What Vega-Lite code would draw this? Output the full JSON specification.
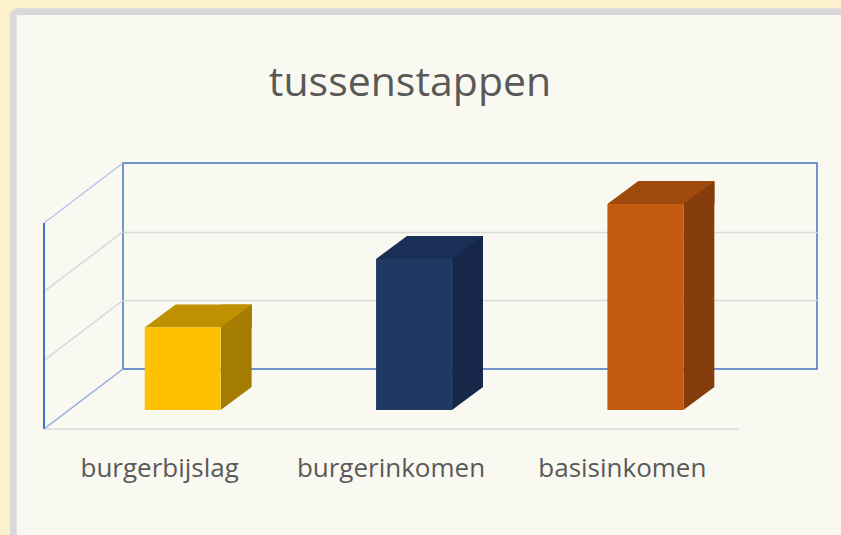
{
  "$schema": "https://vega.github.io/schema/vega-lite/v6.json",
  "width": 694,
  "height": 206,
  "autosize": {"type": "none"},
  "padding": {"left": 123, "top": 163, "right": 24, "bottom": 166},
  "background": "#FAF9F1",
  "title": {"text": "tussenstappen", "font": "Open Sans", "fontSize": 41, "fontWeight": "normal", "color": "#595959", "anchor": "middle", "frame": "group", "dx": -60, "offset": -143, "baseline": "alphabetic"},
  "datasets": {
    "bars": [
      {"category": "burgerbijslag", "value": 1.2},
      {"category": "burgerinkomen", "value": 2.2},
      {"category": "basisinkomen", "value": 3.0}
    ],
    "levels": [{"level": 0}, {"level": 1}, {"level": 2}, {"level": 3}],
    "frame": [{"part": "border"}]
  },
  "config": {
    "view": {"stroke": "#4472C4", "strokeWidth": 1.5}
  },
  "resolve": {"scale": {"color": "independent", "fill": "independent", "stroke": "independent"}},
  "layer": [
    {
      "data": {"name": "frame"},
      "mark": {"type": "rect", "fill": "transparent", "stroke": "#FDF1CD", "strokeWidth": 16, "cornerRadius": 12, "xOffset": -120, "x2Offset": 63, "yOffset": -161.5, "y2Offset": 211},
      "encoding": {
        "x": {"datum": "burgerbijslag", "type": "nominal", "bandPosition": 0,
          "scale": {"domain": ["burgerbijslag", "burgerinkomen", "basisinkomen"], "paddingInner": 0, "paddingOuter": 0},
          "axis": {"title": null, "ticks": false, "tickSize": 0, "grid": false, "domainColor": "#D9D9D9", "domainWidth": 1.5, "labelFont": "Open Sans", "labelFontSize": 26, "labelColor": "#595959", "labelAngle": 0, "labelLimit": 400, "labelPadding": 48, "labelBaseline": "alphabetic", "offset": 138.5, "translate": -78.5}},
        "x2": {"datum": "basisinkomen", "bandPosition": 1},
        "y": {"datum": 3, "type": "quantitative",
          "scale": {"domain": [0, 3], "nice": false},
          "axis": {"title": null, "values": [1, 2], "grid": true, "gridColor": "#D9D9D9", "gridWidth": 1.5, "labels": false, "ticks": false, "domain": false}},
        "y2": {"datum": 0}
      }
    },
    {
      "data": {"name": "frame"},
      "mark": {"type": "rect", "fill": "transparent", "stroke": "#D9D9D9", "strokeWidth": 6.8, "cornerRadius": 4, "xOffset": -109.7, "x2Offset": 63, "yOffset": -151.3, "y2Offset": 211},
      "encoding": {
        "x": {"datum": "burgerbijslag", "type": "nominal", "bandPosition": 0},
        "x2": {"datum": "basisinkomen", "bandPosition": 1},
        "y": {"datum": 3, "type": "quantitative"},
        "y2": {"datum": 0}
      }
    },
    {
      "data": {"name": "levels"},
      "mark": {"type": "rule", "strokeWidth": 1.5, "x2Offset": -79, "y2Offset": 60},
      "encoding": {
        "x": {"datum": "burgerbijslag", "type": "nominal", "bandPosition": 0},
        "x2": {"datum": "burgerbijslag", "bandPosition": 0},
        "y": {"field": "level", "type": "quantitative"},
        "y2": {"field": "level"},
        "stroke": {"field": "level", "type": "ordinal", "scale": {"domain": [0, 1, 2, 3], "range": ["#8FAADC", "#D9D9D9", "#D9D9D9", "#B4C7E7"]}, "legend": null}
      }
    },
    {
      "data": {"name": "levels"},
      "transform": [{"filter": "datum.level == 3"}],
      "mark": {"type": "rule", "strokeWidth": 2, "color": "#4472C4", "xOffset": -79, "yOffset": 60, "y2Offset": 60},
      "encoding": {
        "x": {"datum": "burgerbijslag", "type": "nominal", "bandPosition": 0},
        "y": {"field": "level", "type": "quantitative"},
        "y2": {"datum": 0}
      }
    },
    {
      "data": {"name": "bars"},
      "mark": {"type": "bar", "width": {"band": 0.1338}, "xOffset": -2.5, "yOffset": 18, "y2Offset": 41},
      "encoding": {
        "x": {"field": "category", "type": "nominal"},
        "y": {"field": "value", "type": "quantitative"},
        "y2": {"datum": 0},
        "color": {"field": "category", "type": "nominal", "scale": {"domain": ["burgerbijslag", "burgerinkomen", "basisinkomen"], "range": ["#A47C00", "#16274A", "#843C0C"]}, "legend": null}
      }
    },
    {
      "data": {"name": "bars"},
      "mark": {"type": "bar", "width": {"band": 0.4619}, "xOffset": -40.5, "yOffset": 18, "y2Offset": 41},
      "encoding": {
        "x": {"field": "category", "type": "nominal"},
        "y": {"field": "value", "type": "quantitative"},
        "y2": {"field": "value"},
        "color": {"field": "category", "type": "nominal", "scale": {"domain": ["burgerbijslag", "burgerinkomen", "basisinkomen"], "range": ["#BF9000", "#1A2F55", "#A0490D"]}, "legend": null}
      }
    },
    {
      "data": {"name": "bars"},
      "mark": {"type": "point", "shape": "M-1,0.742L1,-0.742L1,0.742Z", "size": 961, "filled": true, "opacity": 1, "strokeWidth": 0, "xOffset": -2.5, "yOffset": 29.5},
      "encoding": {
        "x": {"field": "category", "type": "nominal"},
        "y": {"field": "value", "type": "quantitative"},
        "fill": {"field": "category", "type": "nominal", "scale": {"domain": ["burgerbijslag", "burgerinkomen", "basisinkomen"], "range": ["#A47C00", "#16274A", "#843C0C"]}, "legend": null}
      }
    },
    {
      "data": {"name": "bars"},
      "mark": {"type": "point", "shape": "M-1,0.742L1,-0.742L1.12,-0.742L1.12,0.82L-1,0.82Z", "size": 961, "filled": true, "opacity": 1, "strokeWidth": 0, "color": "#FAF9F1", "xOffset": -2.5, "yOffset": 29.5},
      "encoding": {
        "x": {"field": "category", "type": "nominal"},
        "y": {"datum": 0, "type": "quantitative"}
      }
    },
    {
      "data": {"name": "bars"},
      "mark": {"type": "point", "shape": "M-1.12,-0.82L1,-0.82L1,-0.742L-1,0.742L-1.12,0.742Z", "size": 961, "filled": true, "opacity": 1, "strokeWidth": 0, "color": "#FAF9F1", "xOffset": -78.5, "yOffset": 29.5},
      "encoding": {
        "x": {"field": "category", "type": "nominal"},
        "y": {"field": "value", "type": "quantitative"}
      }
    },
    {
      "data": {"name": "bars"},
      "mark": {"type": "bar", "width": {"band": 0.328}, "xOffset": -56, "yOffset": 41, "y2Offset": 41},
      "encoding": {
        "x": {"field": "category", "type": "nominal"},
        "y": {"field": "value", "type": "quantitative"},
        "y2": {"datum": 0},
        "color": {"field": "category", "type": "nominal", "scale": {"domain": ["burgerbijslag", "burgerinkomen", "basisinkomen"], "range": ["#FFC000", "#203864", "#C55A11"]}, "legend": null}
      }
    }
  ]
}
